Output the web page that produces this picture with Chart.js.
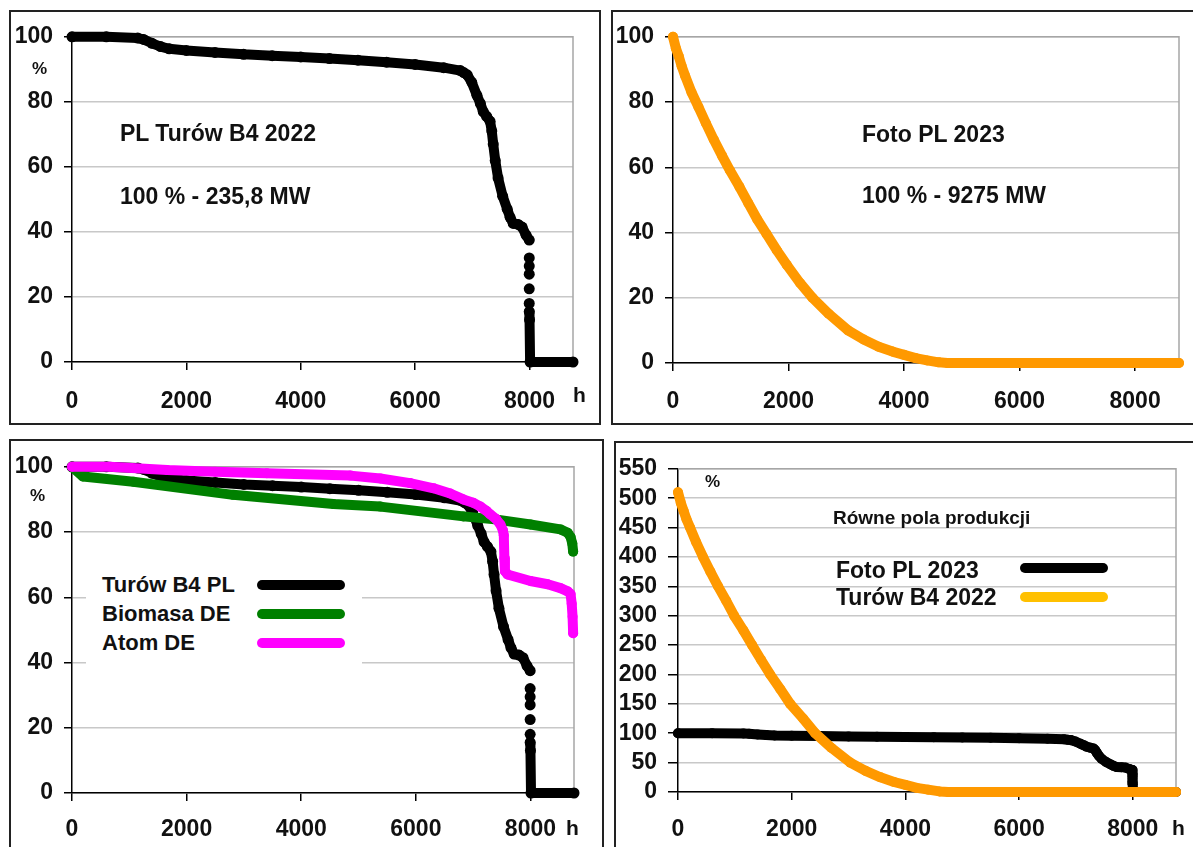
<!DOCTYPE html>
<html>
<head>
<meta charset="utf-8">
<script src="https://cdn.jsdelivr.net/npm/chart.js@4.4.1/dist/chart.umd.min.js"></script>
<style>
body{margin:0;width:1193px;height:847px;overflow:hidden;background:#fff;position:relative;
  font-family:"Liberation Sans",Arial,sans-serif;font-weight:bold;color:#111}
.panel{position:absolute;border:2px solid #222;box-sizing:border-box}
.cv{position:absolute}
.txt{position:absolute;white-space:nowrap;line-height:1;font-size:22px;transform:translateY(-50%)}
.key{position:absolute;border-radius:5px}
.blank{position:absolute;background:#fff}
</style>
</head>
<body>
<div class="panel" style="left:9px;top:10px;width:592px;height:415px"></div>
<div class="panel" style="left:611px;top:10px;width:600px;height:415px"></div>
<div class="panel" style="left:9px;top:439px;width:595px;height:430px"></div>
<div class="panel" style="left:614px;top:441px;width:600px;height:430px"></div>

<canvas id="c1" class="cv" width="588" height="411" style="left:11px;top:12px"></canvas>
<canvas id="c2" class="cv" width="580" height="411" style="left:613px;top:12px"></canvas>
<canvas id="c3" class="cv" width="590" height="405" style="left:11px;top:442px"></canvas>
<canvas id="c4" class="cv" width="576" height="403" style="left:617px;top:444px"></canvas>

<script>
// hours of the year on x, share of max power in % on y
var hourTicks = [0, 2000, 4000, 6000, 8000];
var pctTicks = [0, 20, 40, 60, 80, 100];
var rowneTicks = [0, 50, 100, 150, 200, 250, 300, 350, 400, 450, 500, 550];

// Turów B4 2022 (100 % = 235,8 MW)
var turowHours = [0, 600, 1150, 1250, 1400, 1550, 1700, 2000, 2500, 3000, 3500, 4000, 4500, 5000, 5500, 6000, 6500,
  6790, 6850, 6910, 6990, 7080, 7140, 7190, 7250, 7310, 7340, 7365, 7400, 7450, 7530, 7610, 7660, 7715, 7800, 7870, 7940,
  7995, 7995, 7995, 7995, 7995, 7995, 7995, 8000, 8010, 8760];
var turowPct = [100, 100, 99.6, 99.2, 98, 97, 96.3, 95.8, 95.2, 94.6, 94.2, 93.8, 93.3, 92.8, 92.2, 91.5, 90.5,
  89.6, 89, 88.3, 86, 82, 79.5, 77, 75.5, 74, 71, 67, 62, 56.6, 51, 47, 44.5, 42.6, 42.3, 41.5, 39,
  37.5, 32, 29.5, 27, 22.5, 18, 15.5, 13, 0, 0];

// Foto PL 2023 (100 % = 9275 MW)
var fotoHours = [0, 50, 100, 150, 211, 320, 440, 570, 705, 850, 987, 1150, 1304, 1460, 1621, 1800, 1973,
  2200, 2414, 2700, 3031, 3300, 3560, 3800, 4000, 4200, 4400, 4600, 4750, 8760];
var fotoPct = [100, 96.5, 94, 91, 88, 83, 78.5, 73.5, 68.5, 63.5, 59, 54, 49, 44, 39.5, 34.5, 30,
  24.5, 20, 15, 10, 7.2, 5, 3.5, 2.5, 1.5, 0.8, 0.2, 0, 0];

// Biomasa DE
var biomasaHours = [0, 190, 1070, 2810, 4560, 5380, 6830, 7420, 8000, 8524, 8650, 8700, 8730, 8745];
var biomasaPct = [100, 97, 95.4, 91.4, 88.6, 87.8, 84.8, 83.8, 82.3, 80.8, 79.8, 78.5, 76.5, 74];

// Atom DE
var atomHours = [0, 660, 1660, 2500, 3400, 4860, 5380, 5900, 6311, 6600, 6830, 7000, 7127, 7230, 7300, 7400, 7476,
  7520, 7535, 7545, 7555, 7600, 8000, 8300, 8524, 8650, 8700, 8720, 8735, 8745];
var atomPct = [100, 100, 99, 98.5, 98, 97.3, 96.4, 95, 93.4, 91.8, 90, 89, 87.8, 86.5, 85.4, 84, 82.3,
  80.5, 79, 72, 68, 67, 65, 64, 62.8, 61.8, 61, 58, 54, 49];

// Równe pola produkcji
var rowneFotoHours = [0, 50, 100, 150, 211, 320, 440, 570, 705, 850, 987, 1150, 1304, 1460, 1621, 1800, 1973,
  2200, 2414, 2700, 3031, 3300, 3560, 3800, 4000, 4200, 4400, 4600, 4750, 8760];
var rowneFotoPct = [510, 492, 478, 464, 450, 425, 400, 375, 350, 325, 300, 275, 250, 225, 200, 175, 150,
  125, 100, 75, 50, 36, 25, 17, 12, 7, 4, 1, 0, 0];

Chart.defaults.font.family = '"Liberation Sans", Arial, sans-serif';
Chart.defaults.font.weight = 'bold';
Chart.defaults.font.size = 23;
Chart.defaults.color = '#111';

var plotFrame = {
  id: 'plotFrame',
  beforeDatasetsDraw: function(chart){
    var a = chart.chartArea, c = chart.ctx;
    c.save();
    c.strokeStyle = '#a6a6a6';
    c.lineWidth = 1.5;
    c.beginPath();
    c.moveTo(a.left, a.top);
    c.lineTo(a.right, a.top);
    c.lineTo(a.right, a.bottom);
    c.stroke();
    c.restore();
  }
};

function toPoints(hours, values){
  var pts = [];
  for (var i = 0; i < hours.length; i++){
    pts.push({x: hours[i], y: values[i]});
  }
  return pts;
}

function makeSeries(label, hours, values, color, order){
  return {
    label: label,
    data: toPoints(hours, values),
    borderColor: color,
    backgroundColor: color,
    pointBackgroundColor: color,
    borderWidth: 10,
    pointRadius: 5,
    pointHoverRadius: 5,
    pointBorderWidth: 0,
    borderCapStyle: 'round',
    borderJoinStyle: 'round',
    tension: 0,
    clip: false,
    order: order
  };
}

// hours with several readings (the drop at ~8000 h) show up as separate dots
function dottedDrop(ds){
  ds.pointRadius = 5.5;
  ds.pointHoverRadius = 5.5;
  ds.segment = {
    borderColor: function(ctx){
      return ctx.p0.parsed.x === ctx.p1.parsed.x ? 'rgba(0,0,0,0)' : undefined;
    }
  };
  return ds;
}

function tickList(values){
  return function(axis){
    axis.ticks = values.map(function(v){ return {value: v}; });
  };
}

function createPlot(idCanvas, box, datasets, yTicks){
  var canvas = document.getElementById(idCanvas);
  var cl = canvas.offsetLeft, ct = canvas.offsetTop;
  var padTop = box.top - ct;
  var padRight = cl + canvas.width - box.right;
  var yWidth = box.left - cl;
  var xHeight = ct + canvas.height - box.bottom;

  return new Chart(canvas.getContext('2d'), {
    type: 'line',
    data: {datasets: datasets},
    plugins: [plotFrame],
    options: {
      responsive: false,
      animation: false,
      devicePixelRatio: 1,
      layout: {padding: {left: 0, top: padTop, right: padRight, bottom: 0}},
      plugins: {legend: {display: false}, tooltip: {enabled: false}},
      scales: {
        x: {
          type: 'linear', min: 0, max: 8760,
          afterBuildTicks: tickList(hourTicks),
          afterFit: function(a){ a.height = xHeight; },
          grid: {drawOnChartArea: false, color: '#000', tickLength: 8, lineWidth: 1.5},
          border: {color: '#000', width: 1.5},
          ticks: {padding: box.xPad, autoSkip: false, maxRotation: 0,
            callback: function(v){ return String(v); }}
        },
        y: {
          type: 'linear', min: 0, max: yTicks[yTicks.length - 1],
          afterBuildTicks: tickList(yTicks),
          afterFit: function(a){ a.width = yWidth; },
          grid: {color: '#c8c8c8', tickColor: '#000', tickLength: box.tickLen, lineWidth: 1.5},
          border: {color: '#000', width: 1.5},
          ticks: {padding: box.yPad, autoSkip: false,
            callback: function(v){ return String(v); }}
        }
      }
    }
  });
}

createPlot('c1', {left: 72, top: 34, right: 573, bottom: 362, xPad: 18, yPad: 11, tickLen: 8},
  [dottedDrop(makeSeries('PL Turów B4 2022', turowHours, turowPct, '#000000', 1))], pctTicks);

createPlot('c2', {left: 673, top: 35, right: 1179, bottom: 363, xPad: 17, yPad: 11, tickLen: 8},
  [makeSeries('Foto PL 2023', fotoHours, fotoPct, '#FF9900', 1)], pctTicks);

createPlot('c3', {left: 72, top: 465, right: 574, bottom: 793, xPad: 15, yPad: 11, tickLen: 8},
  [dottedDrop(makeSeries('Turów B4 PL', turowHours, turowPct, '#000000', 3)),
   makeSeries('Biomasa DE', biomasaHours, biomasaPct, '#008000', 2),
   makeSeries('Atom DE', atomHours, atomPct, '#FF00FF', 1)], pctTicks);

createPlot('c4', {left: 678, top: 465, right: 1176, bottom: 792, xPad: 16, yPad: 11, tickLen: 10},
  [makeSeries('Turów', turowHours, turowPct, '#000000', 2),
   makeSeries('Foto', rowneFotoHours, rowneFotoPct, '#FF9900', 1)], rowneTicks);

function addText(x, y, str, size){
  var d = document.createElement('div');
  d.className = 'txt';
  d.style.left = x + 'px';
  d.style.top = y + 'px';
  if (size) d.style.fontSize = size + 'px';
  d.textContent = str;
  document.body.appendChild(d);
}
function addKey(x, y, w, color){
  var d = document.createElement('div');
  d.className = 'key';
  d.style.left = x + 'px';
  d.style.top = (y - 5) + 'px';
  d.style.width = w + 'px';
  d.style.height = '10px';
  d.style.background = color;
  document.body.appendChild(d);
}

// panel 1
addText(32, 68, '%', 17);
addText(120, 133, 'PL Turów B4 2022', 23);
addText(120, 196, '100 % - 235,8 MW', 23);
addText(573, 394, 'h', 21);
// panel 2
addText(862, 134, 'Foto PL 2023', 23);
addText(862, 195, '100 % - 9275 MW', 23);
// panel 3
addText(30, 495, '%', 17);
var blank = document.createElement('div');
blank.className = 'blank';
blank.style.cssText = 'left:86px;top:548px;width:276px;height:140px';
document.body.appendChild(blank);
addText(102, 585, 'Turów B4 PL');
addText(102, 614, 'Biomasa DE');
addText(102, 643, 'Atom DE');
addKey(257, 585, 88, '#000000');
addKey(257, 614, 88, '#008000');
addKey(257, 643, 88, '#FF00FF');
addText(566, 827, 'h', 21);
// panel 4
addText(705, 481, '%', 17);
addText(833, 517, 'Równe pola produkcji', 19);
addText(836, 570, 'Foto PL 2023', 23);
addText(836, 597, 'Turów B4 2022', 23);
addKey(1020, 568, 88, '#000000');
addKey(1020, 597, 88, '#FFC000');
addText(1172, 827, 'h', 21);
</script>
</body>
</html>
